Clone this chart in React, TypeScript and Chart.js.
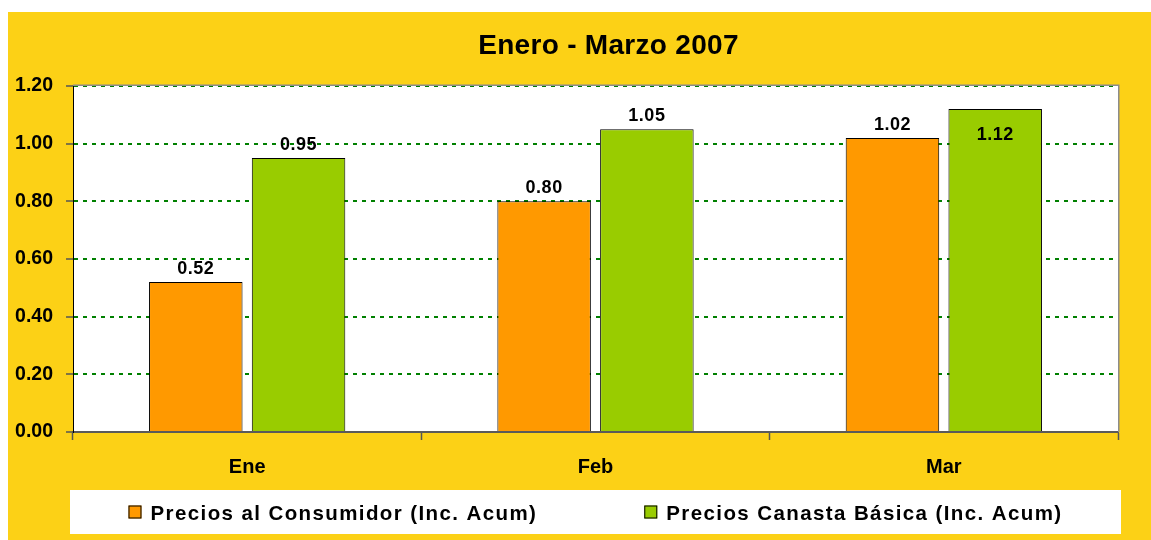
import { useEffect, useRef } from "react";
import { Chart, registerables } from "chart.js";

Chart.register(...registerables);

const titleText = "Enero - Marzo 2007";
const categories = ["Ene", "Feb", "Mar"];
const seriesNames = ["Precios al Consumidor (Inc. Acum)", "Precios Canasta Básica (Inc. Acum)"];
const consumidorValues = [0.52, 0.8, 1.02];
const canastaValues = [0.95, 1.05, 1.12];
const seriesColors = ["#FF9900", "#99CC00"];
const yMin = 0;
const yMax = 1.2;
const yStep = 0.2;

const FONT = "'Liberation Sans', Arial, Helvetica, sans-serif";
const YELLOW = "#FCD116";

const plotBgPlugin = {
  id: "plotBg",
  beforeDraw(chart: any) {
    const { ctx, chartArea: a } = chart;
    ctx.save();
    ctx.fillStyle = "#FFFFFF";
    ctx.fillRect(a.left, a.top, a.right - a.left, a.bottom - a.top);
    ctx.restore();
  },
  beforeDatasetsDraw(chart: any) {
    const { ctx, chartArea: a } = chart;
    ctx.save();
    ctx.strokeStyle = "#8C8C8C";
    ctx.lineWidth = 1.5;
    ctx.beginPath();
    ctx.moveTo(a.left, a.top - 0.75);
    ctx.lineTo(a.right + 0.75, a.top - 0.75);
    ctx.lineTo(a.right + 0.75, a.bottom);
    ctx.stroke();
    ctx.restore();
  },
};

const valueLabelPlugin = {
  id: "valueLabels",
  afterDatasetsDraw(chart: any) {
    const { ctx, chartArea: a } = chart;
    ctx.save();
    ctx.font = `bold 18px ${FONT}`;
    (ctx as any).letterSpacing = "0.5px";
    ctx.fillStyle = "#000";
    ctx.textAlign = "center";
    ctx.textBaseline = "alphabetic";
    chart.data.datasets.forEach((ds: any, i: number) => {
      const meta = chart.getDatasetMeta(i);
      meta.data.forEach((bar: any, j: number) => {
        const v = ds.data[j] as number;
        const { x, y } = bar.getProps(["x", "y"], true);
        const inside = y - 30 < a.top;
        const baseline = inside ? y + 31 : y - 8;
        ctx.fillText(v.toFixed(2), x, baseline);
      });
    });
    ctx.restore();
  },
};

const titleLegendPlugin = {
  id: "titleLegend",
  afterDraw(chart: any) {
    const { ctx, chartArea: a } = chart;
    ctx.save();
    // title
    ctx.font = `bold 28px ${FONT}`;
    (ctx as any).letterSpacing = "0.3px";
    ctx.fillStyle = "#000";
    ctx.textAlign = "center";
    ctx.textBaseline = "alphabetic";
    ctx.fillText(titleText, (a.left + a.right) / 2 + 13, 41.5);

    // legend
    const rx = 62;
    const ry = 478;
    const rw = 1051;
    const rh = 44;
    ctx.fillStyle = "#FFFFFF";
    ctx.fillRect(rx, ry, rw, rh);
    ctx.font = `bold 20.5px ${FONT}`;
    (ctx as any).letterSpacing = "1.4px";
    ctx.textAlign = "left";
    const box = 13;
    const boxGap = 9;
    const itemGap = 107;
    const items = chart.data.datasets.map((ds: any) => ({
      label: ds.label as string,
      color: ds.backgroundColor as string,
      w: ctx.measureText(ds.label).width,
    }));
    const total =
      items.reduce((s: number, it: any) => s + box + boxGap + it.w, 0) + itemGap * (items.length - 1);
    let x = rx + rw / 2 - total / 2;
    const cy = ry + rh / 2;
    items.forEach((it: any) => {
      ctx.fillStyle = it.color;
      ctx.fillRect(x, cy - box / 2, box, box);
      ctx.strokeStyle = "#000";
      ctx.lineWidth = 1;
      ctx.strokeRect(x + 0.5, cy - box / 2 + 0.5, box - 1, box - 1);
      ctx.fillStyle = "#000";
      ctx.fillText(it.label, x + box + boxGap, cy + 7.5);
      x += box + boxGap + it.w + itemGap;
    });
    ctx.restore();
  },
};

export default function App() {
  const canvasRef = useRef<HTMLCanvasElement | null>(null);

  useEffect(() => {
    const canvas = canvasRef.current;
    if (!canvas) return;
    const chart = new Chart(canvas, {
      type: "bar",
      data: {
        labels: categories,
        datasets: [
          {
            label: seriesNames[0],
            data: consumidorValues,
            backgroundColor: seriesColors[0],
            borderColor: "#000000",
            borderWidth: 1,
            categoryPercentage: 0.59,
            barPercentage: 0.91,
          },
          {
            label: seriesNames[1],
            data: canastaValues,
            backgroundColor: seriesColors[1],
            borderColor: "#000000",
            borderWidth: 1,
            categoryPercentage: 0.59,
            barPercentage: 0.91,
          },
        ],
      },
      options: {
        animation: false,
        responsive: true,
        maintainAspectRatio: false,
        layout: { padding: { top: 74, right: 33, left: 0, bottom: 0 } },
        plugins: {
          legend: { display: false },
          title: { display: false },
          tooltip: { enabled: false },
        },
        scales: {
          x: {
            offset: true,
            grid: {
              display: true,
              drawOnChartArea: false,
              drawTicks: true,
              tickLength: 8,
              tickColor: "#555555",
              tickWidth: 1.5,
              offset: true,
            },
            border: { color: "#5A5A5A", width: 2 },
            ticks: {
              font: { family: FONT, size: 20, weight: "bold" },
              color: "#000000",
              padding: 15,
            },
            afterFit: (s: any) => {
              s.height = 108;
            },
          },
          y: {
            min: yMin,
            max: yMax,
            ticks: {
              stepSize: yStep,
              callback: (v: any) => Number(v).toFixed(2),
              font: { family: FONT, size: 19.5, weight: "bold" },
              color: "#000000",
              padding: 13,
            },
            grid: {
              color: (c: any) => (c.tick && Math.abs(c.tick.value) < 1e-9 ? "rgba(0,0,0,0)" : "#008000"),
              lineWidth: 2,
              tickLength: 7,
              tickColor: "#555555",
              tickWidth: 1.5,
              tickBorderDash: [],
            },
            border: { color: "#000000", width: 1, dash: [4, 5] },
            afterFit: (s: any) => {
              s.width = 65;
            },
          },
        },
      } as any,
      plugins: [plotBgPlugin, valueLabelPlugin, titleLegendPlugin],
    });
    return () => chart.destroy();
  }, []);

  return (
    <div
      style={{
        position: "absolute",
        left: 8,
        top: 12,
        width: 1143,
        height: 528,
        background: YELLOW,
      }}
    >
      <canvas ref={canvasRef} />
    </div>
  );
}
